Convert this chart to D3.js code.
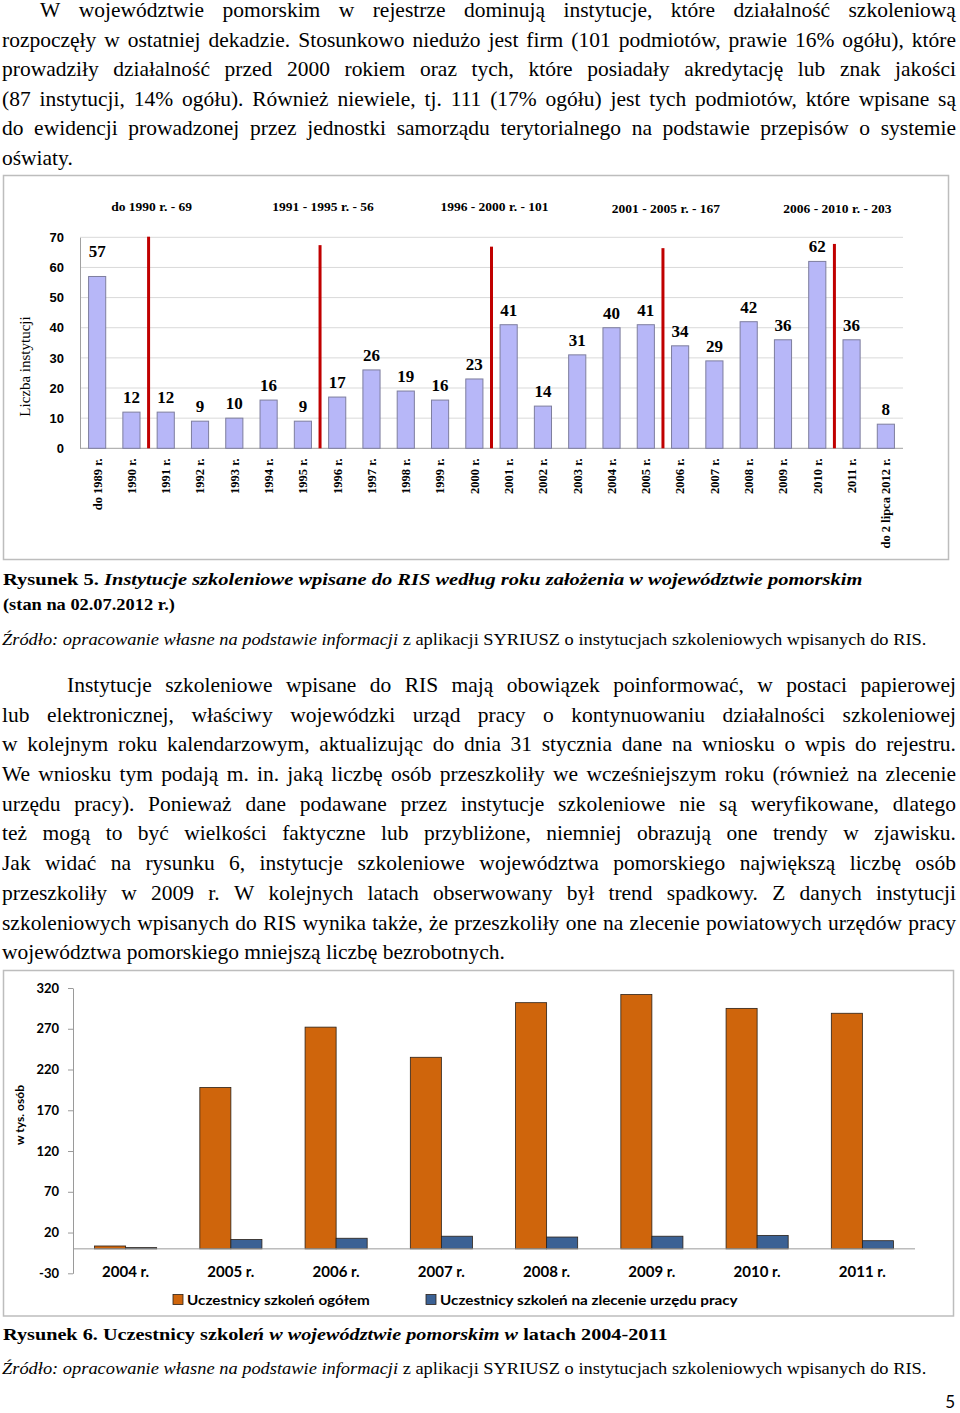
<!DOCTYPE html>
<html><head><meta charset="utf-8">
<script src="https://cdn.jsdelivr.net/npm/d3@7"></script>
<style>
html,body{margin:0;padding:0;background:#fff;}
svg{display:block;}
</style></head>
<body>
<script>
// ---------- DATA ----------
const para1 = [
  "W województwie pomorskim w rejestrze dominują instytucje, które działalność szkoleniową",
  "rozpoczęły w ostatniej dekadzie. Stosunkowo niedużo jest firm (101 podmiotów, prawie 16% ogółu), które",
  "prowadziły działalność przed 2000 rokiem oraz tych, które posiadały akredytację lub znak jakości",
  "(87 instytucji, 14% ogółu). Również niewiele, tj. 111 (17% ogółu) jest tych podmiotów, które wpisane są",
  "do ewidencji prowadzonej przez jednostki samorządu terytorialnego na podstawie przepisów o systemie",
  "oświaty."
];
const para2 = [
  "Instytucje szkoleniowe wpisane do RIS mają obowiązek poinformować, w postaci papierowej",
  "lub elektronicznej, właściwy wojewódzki urząd pracy o kontynuowaniu działalności szkoleniowej",
  "w kolejnym roku kalendarzowym, aktualizując do dnia 31 stycznia dane na wniosku o wpis do rejestru.",
  "We wniosku tym podają m. in. jaką liczbę osób przeszkoliły we wcześniejszym roku (również na zlecenie",
  "urzędu pracy). Ponieważ dane podawane przez instytucje szkoleniowe nie są weryfikowane, dlatego",
  "też mogą to być wielkości faktyczne lub przybliżone, niemniej obrazują one trendy w zjawisku.",
  "Jak widać na rysunku 6, instytucje szkoleniowe województwa pomorskiego największą liczbę osób",
  "przeszkoliły w 2009 r. W kolejnych latach obserwowany był trend spadkowy. Z danych instytucji",
  "szkoleniowych wpisanych do RIS wynika także, że przeszkoliły one na zlecenie powiatowych urzędów pracy",
  "województwa pomorskiego mniejszą liczbę bezrobotnych."
];

// Chart 1: institutions by founding year
const years1 = ["do 1989 r.","1990 r.","1991 r.","1992 r.","1993 r.","1994 r.","1995 r.","1996 r.",
  "1997 r.","1998 r.","1999 r.","2000 r.","2001 r.","2002 r.","2003 r.","2004 r.","2005 r.","2006 r.",
  "2007 r.","2008 r.","2009 r.","2010 r.","2011 r.","do 2 lipca 2012 r."];
const counts1 = [57,12,12,9,10,16,9,17,26,19,16,23,41,14,31,40,41,34,29,42,36,62,36,8];
const ticks1 = [0,10,20,30,40,50,60,70];
const periodLabels = ["do 1990 r. - 69","1991 - 1995 r. - 56","1996 - 2000 r. - 101","2001 - 2005 r. - 167","2006 - 2010 r. - 203"];
const periodEndIndex = [1,6,11,16,21];          // last category of each period
const separatorTop = [70.2,67.4,66.9,66.4,67.8]; // height of red separator lines (axis units)
const yTitle1 = "Liczba instytucji";

// Chart 2: participants
const years2 = ["2004 r.","2005 r.","2006 r.","2007 r.","2008 r.","2009 r.","2010 r.","2011 r."];
const totalParticipants = [3.5,198,272,235,302,312,295,289];
const officeParticipants = [1.5,11.5,13,15.5,14.5,15.5,16.5,10];
const ticks2 = [-30,20,70,120,170,220,270,320];
const seriesNames2 = ["Uczestnicy szkoleń ogółem","Uczestnicy szkoleń na zlecenie urzędu pracy"];
const yTitle2 = "w tys. osób";

// ---------- DRAW ----------
const W = 960, H = 1413;
const SERIF = "'Liberation Serif','Times New Roman',serif";
const SANS = "'Liberation Sans',Arial,sans-serif";
const CAL = "Lato,'Open Sans',sans-serif";

const svg = d3.select("body").append("svg").attr("width", W).attr("height", H);
svg.append("rect").attr("width", W).attr("height", H).attr("fill", "#fff");

function measure(str, font, size, weight, style) {
  const t = svg.append("text").attr("font-family", font).attr("font-size", size)
    .attr("font-weight", weight || "normal").attr("font-style", style || "normal").text(str);
  const w = t.node().getComputedTextLength();
  t.remove();
  return w;
}
// justified paragraph, glyphs slightly widened like the scanned page
function paragraph(lines, baseY, lh, indent) {
  const size = 20, k = 1.075;
  lines.forEach((line, i) => {
    const x0 = (i === 0 ? indent : 2) / k;
    const x1 = 956 / k;
    const y = baseY + i * lh;
    const last = i === lines.length - 1;
    const g = svg.append("g").attr("transform", `scale(${k},1)`);
    const t = g.append("text").attr("font-family", SERIF).attr("font-size", size).attr("fill", "#000");
    if (last) { t.attr("x", x0).attr("y", y).text(line); return; }
    const words = line.split(" ");
    const ws = words.map(w => measure(w, SERIF, size));
    const sum = d3.sum(ws);
    const gap = (x1 - x0 - sum) / (words.length - 1);
    let x = x0;
    words.forEach((w, j) => {
      t.append("tspan").attr("x", x).attr("y", y).text(w);
      x += ws[j] + gap;
    });
  });
}
function fitLine(parts, x0, x1, y, size) {
  const g = svg.append("g");
  const t = g.append("text").attr("font-family", SERIF).attr("font-size", size).attr("fill", "#000");
  parts.forEach(p => t.append("tspan").attr("font-weight", p.b ? "bold" : "normal")
    .attr("font-style", p.i ? "italic" : "normal").text(p.t));
  const w = t.node().getComputedTextLength();
  g.attr("transform", `translate(${x0},${y}) scale(${(x1 - x0) / w},1)`);
  return g;
}

paragraph(para1, 17, 29.6, 40);
paragraph(para2, 692, 29.7, 67);

// ---------- CHART 1 ----------
svg.append("rect").attr("x", 3.5).attr("y", 175.5).attr("width", 945).attr("height", 384)
  .attr("fill", "none").attr("stroke", "#BDBDBD").attr("stroke-width", 1.5);

const x1s = d3.scaleBand().domain(years1).range([80, 903]).paddingInner(0.5).paddingOuter(0.25);
const y1s = d3.scaleLinear().domain([0, 70]).range([448.3, 237.3]);
const g1 = svg.append("g");

g1.selectAll("line.grid").data(ticks1.slice(1)).join("line")
  .attr("x1", 80).attr("x2", 903).attr("y1", d => y1s(d)).attr("y2", d => y1s(d))
  .attr("stroke", "#D9D9D9").attr("stroke-width", 1);

const yAxis1 = g1.append("g").attr("transform", "translate(80,0)")
  .call(d3.axisLeft(y1s).tickValues(ticks1).tickSize(0).tickPadding(16));
yAxis1.select(".domain").attr("stroke", "#A0A0A0");
yAxis1.selectAll("text").attr("font-family", SANS).attr("font-weight", "bold").attr("font-size", 13).attr("fill", "#000");

g1.append("line").attr("x1", 80).attr("x2", 903).attr("y1", y1s(0)).attr("y2", y1s(0))
  .attr("stroke", "#A0A0A0").attr("stroke-width", 1);

g1.selectAll("rect.bar").data(counts1).join("rect")
  .attr("x", (d, i) => x1s(years1[i])).attr("width", x1s.bandwidth())
  .attr("y", d => y1s(d)).attr("height", d => y1s(0) - y1s(d))
  .attr("fill", "#B7B7F8").attr("stroke", "#7E7E9E").attr("stroke-width", 1);

const lift = i => (i === 0 ? 19 : 9);
g1.selectAll("text.val").data(counts1).join("text")
  .attr("x", (d, i) => x1s(years1[i]) + x1s.bandwidth() / 2)
  .attr("y", (d, i) => y1s(d) - lift(i))
  .attr("text-anchor", "middle").attr("font-family", SERIF).attr("font-weight", "bold")
  .attr("font-size", 17).text(d => d);

const xAxis1 = g1.append("g").attr("transform", `translate(0,${y1s(0)})`)
  .call(d3.axisBottom(x1s).tickSize(0));
xAxis1.select(".domain").remove();
xAxis1.selectAll("text").attr("font-family", SERIF).attr("font-weight", "bold").attr("font-size", 12.5)
  .attr("fill", "#000").attr("text-anchor", "end")
  .attr("transform", "rotate(-90)").attr("x", -10).attr("y", 0).attr("dy", "0.35em");

const step1 = x1s.step();
const sepX = idx => x1s(years1[idx + 1]) - step1 * 0.25;
g1.selectAll("line.sep").data(periodEndIndex).join("line")
  .attr("x1", d => sepX(d)).attr("x2", d => sepX(d))
  .attr("y1", y1s(0)).attr("y2", (d, i) => y1s(separatorTop[i]))
  .attr("stroke", "#C00000").attr("stroke-width", 3);
g1.selectAll("text.period").data(periodLabels).join("text")
  .attr("x", (d, i) => sepX(periodEndIndex[i]) + 3)
  .attr("y", (d, i) => i < 3 ? 210.5 : 213)
  .attr("text-anchor", "middle").attr("font-family", SERIF).attr("font-weight", "bold")
  .attr("font-size", 13.5).text(d => d);

g1.append("text").attr("transform", `translate(30,${(318 + 415) / 2}) rotate(-90)`)
  .attr("text-anchor", "middle").attr("font-family", SERIF).attr("font-size", 15).text(yTitle1);

fitLine([{t: "Rysunek 5. ", b: true}, {t: "Instytucje szkoleniowe wpisane do RIS według roku założenia w województwie pomorskim", b: true, i: true}], 3, 863, 585, 17.5);
fitLine([{t: "(stan na 02.07.2012 r.)", b: true}], 3, 175, 610, 17.5);
fitLine([{t: "Źródło: opracowanie własne na podstawie informacji", i: true}, {t: " z aplikacji SYRIUSZ o instytucjach szkoleniowych wpisanych do RIS."}], 2, 927, 645, 16.5);

// ---------- CHART 2 ----------
svg.append("rect").attr("x", 3.5).attr("y", 970.5).attr("width", 950).attr("height", 345.5)
  .attr("fill", "none").attr("stroke", "#BDBDBD").attr("stroke-width", 1.5);

const x2s = d3.scaleBand().domain(years2).range([73, 915]).paddingInner(0.41).paddingOuter(0.205);
const sub = d3.scaleBand().domain([0, 1]).range([0, x2s.bandwidth()]);
const y2s = d3.scaleLinear().domain([-30, 320]).range([1273.3, 988]);
const g2 = svg.append("g");
const colors2 = ["#CF650C", "#3B6194"];

const yAxis2 = g2.append("g").attr("transform", "translate(73,0)")
  .call(d3.axisLeft(y2s).tickValues(ticks2).tickFormat(d => String(d)).tickSize(5).tickSizeOuter(0).tickPadding(9));
yAxis2.select(".domain").attr("stroke", "#9A9A9A");
yAxis2.selectAll(".tick line").attr("stroke", "#9A9A9A");
yAxis2.selectAll("text").attr("font-family", CAL).attr("font-weight", "bold").attr("font-size", 13).attr("fill", "#000");

[totalParticipants, officeParticipants].forEach((vals, s) => {
  g2.selectAll(`rect.s${s}`).data(vals).join("rect")
    .attr("x", (d, i) => x2s(years2[i]) + sub(s)).attr("width", sub.bandwidth())
    .attr("y", d => y2s(d)).attr("height", d => y2s(0) - y2s(d))
    .attr("fill", colors2[s]).attr("stroke", "#2B2118").attr("stroke-width", 0.8);
});

g2.append("line").attr("x1", 73).attr("x2", 915).attr("y1", y2s(0)).attr("y2", y2s(0))
  .attr("stroke", "#9A9A9A").attr("stroke-width", 1);

g2.selectAll("text.xl").data(years2).join("text")
  .attr("x", d => x2s(d) + x2s.bandwidth() / 2).attr("y", 1276.5)
  .attr("text-anchor", "middle").attr("font-family", CAL).attr("font-weight", "bold")
  .attr("font-size", 15).text(d => d);

g2.append("text").attr("transform", `translate(24,1115) rotate(-90)`)
  .attr("text-anchor", "middle").attr("font-family", CAL).attr("font-weight", "bold")
  .attr("font-size", 12).text(yTitle2);

const legX = [[173, 187, 370], [426, 440, 738]];
seriesNames2.forEach((name, s) => {
  g2.append("rect").attr("x", legX[s][0]).attr("y", 1294.5).attr("width", 10).attr("height", 10)
    .attr("fill", colors2[s]).attr("stroke", "#2B2118").attr("stroke-width", 0.8);
  const lg = g2.append("g");
  const t = lg.append("text").attr("font-family", CAL).attr("font-weight", "bold").attr("font-size", 14).text(name);
  const w = t.node().getComputedTextLength();
  lg.attr("transform", `translate(${legX[s][1]},1304.5) scale(${(legX[s][2] - legX[s][1]) / w},1)`);
});

fitLine([{t: "Rysunek 6. Uczestnicy szkol", b: true}, {t: "eń w województwie pomorskim w", b: true, i: true}, {t: " latach 2004-2011", b: true}], 3, 668, 1340, 17.5);
fitLine([{t: "Źródło: opracowanie własne na podstawie informacji", i: true}, {t: " z aplikacji SYRIUSZ o instytucjach szkoleniowych wpisanych do RIS."}], 2, 927, 1374, 16.5);

svg.append("text").attr("x", 955).attr("y", 1408).attr("text-anchor", "end")
  .attr("font-family", CAL).attr("font-size", 17).text("5");
</script>
</body></html>
